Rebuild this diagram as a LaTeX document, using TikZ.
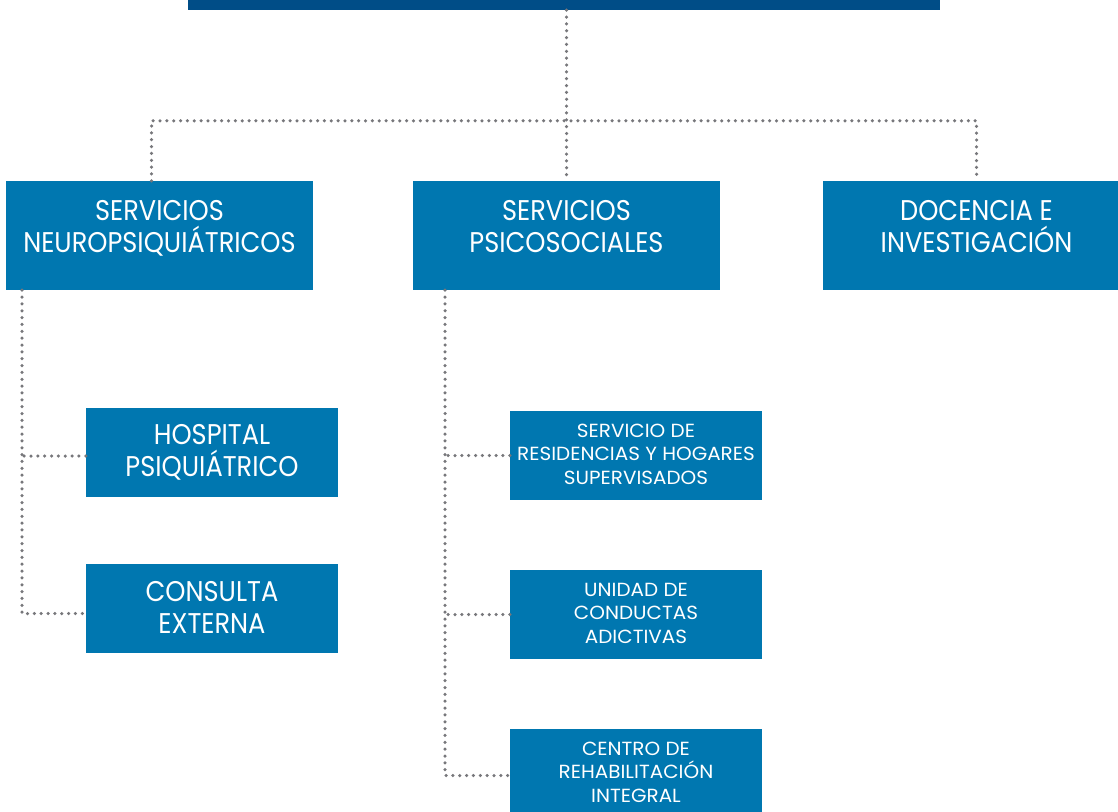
\documentclass[tikz,border=0pt]{standalone}
\usepackage{fontspec}
\setmainfont{Poppins}[FakeStretch=0.9]
\newfontfamily\subfont{Poppins}[FakeStretch=1.05]
\definecolor{topblue}{HTML}{004D87}
\definecolor{boxblue}{HTML}{0077B0}
\definecolor{dotgray}{HTML}{77777B}
\begin{document}
\begin{tikzpicture}[x=1pt,y=-1pt,
  topbar/.style={fill=topblue, draw=none, inner sep=0pt, minimum width=752pt, minimum height=12pt},
  bigbox/.style={fill=boxblue, draw=none, inner sep=0pt, minimum width=307pt, minimum height=109pt},
  subbox/.style={fill=boxblue, draw=none, inner sep=0pt, minimum width=252pt, minimum height=89pt},
  bigtxt/.style={text=white, align=center, inner sep=0pt, anchor=north, font=\fontsize{28.5}{32}\selectfont},
  smalltxt/.style={text=white, align=center, inner sep=0pt, anchor=north, font=\subfont\fontsize{19}{23.3}\selectfont},
  dots/.style={draw=dotgray, line width=3.5pt, line cap=round, dash pattern=on 0pt off 6.85pt}]
\useasboundingbox (0,0) rectangle (1118,811);
% boxes
\node[topbar] (top) at (564,4) {};
\node[bigbox] (sn) at (159.5,235.5) {};
\node[bigbox] (sp) at (566.5,235.5) {};
\node[bigbox] (dc) at (976.5,235.5) {};
\node[subbox] (hp) at (212,452) {};
\node[subbox] (ce) at (212,608.5) {};
\node[subbox] (sr) at (636,455.5) {};
\node[subbox] (uc) at (636,614.5) {};
\node[subbox] (cr) at (636,773.5) {};
% texts
\node[bigtxt] (snt) at (159.5,200) {SERVICIOS\\NEUROPSIQUIÁTRICOS};
\node[bigtxt] (spt) at (566.5,200) {SERVICIOS\\PSICOSOCIALES};
\node[bigtxt] (dct) at (976.5,200) {DOCENCIA E\\INVESTIGACIÓN};
\node[bigtxt] (hpt) at (212,424) {HOSPITAL\\PSIQUIÁTRICO};
\node[bigtxt] (cet) at (212,581) {CONSULTA\\EXTERNA};
\node[smalltxt] (srt) at (636,424) {SERVICIO DE\\RESIDENCIAS Y HOGARES\\SUPERVISADOS};
\node[smalltxt] (uct) at (636,583) {UNIDAD DE\\CONDUCTAS\\ADICTIVAS};
\node[smalltxt] (crt) at (636,742) {CENTRO DE\\REHABILITACIÓN\\INTEGRAL};
% connectors
\coordinate (lx) at (22,0);
\coordinate (mx) at (445,0);
\draw[dots] (top.south -| sp.north) -- (sp.north);
\draw[dots] ([xshift=-8pt]sn.north) -- ++(0,-60) -| (dc.north);
\draw[dots] (sn.south -| lx) |- ([yshift=-5pt]ce.west);
\draw[dots] ([yshift=-4pt]hp.west) -- ([yshift=-4pt]hp.west -| lx);
\draw[dots] (sp.south -| mx) |- ([yshift=-2pt]cr.west);
\draw[dots] (sr.west) -- (sr.west -| mx);
\draw[dots] (uc.west) -- (uc.west -| mx);
\end{tikzpicture}
\end{document}
